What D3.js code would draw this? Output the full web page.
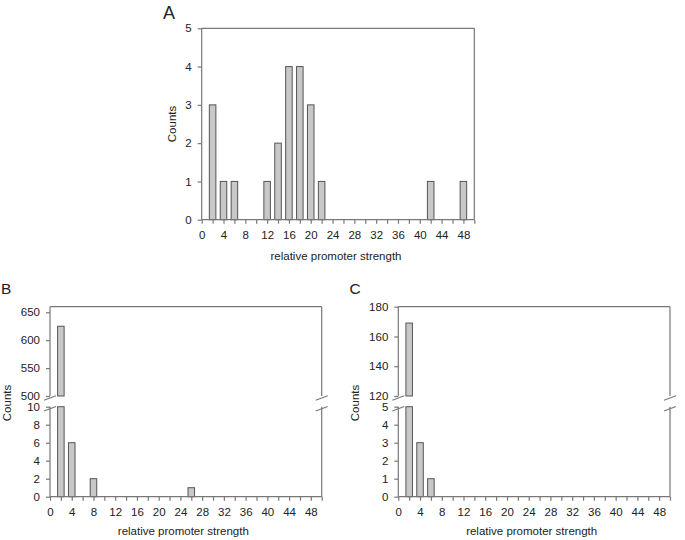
<!DOCTYPE html>
<html>
<head>
<meta charset="utf-8">
<script src="https://cdn.jsdelivr.net/npm/d3@7"></script>
<style>
  body { margin: 0; background: #fff; }
  svg text { font-family: "Liberation Sans", Arial, sans-serif; fill: #222; }
  .axis path, .axis line { stroke: #777; stroke-width: 1.2; }
  .axis text { font-size: 11.5px; fill: #222; }
</style>
</head>
<body>
<div id="canvas"></div>
<script>
// data
var xTickValues = [0, 4, 8, 12, 16, 20, 24, 28, 32, 36, 40, 44, 48];

var binsA = [2, 4, 6, 12, 14, 16, 18, 20, 22, 42, 48];
var countsA = [3, 1, 1, 1, 2, 4, 4, 3, 1, 1, 1];
var yTicksA = [0, 1, 2, 3, 4, 5];

var binsB = [2, 4, 8, 26];
var countsB = [625, 6, 2, 1];
var yTicksBLow = [0, 2, 4, 6, 8, 10];
var yTicksBHigh = [500, 550, 600, 650];

var binsC = [2, 4, 6];
var countsC = [169, 3, 1];
var yTicksCLow = [0, 1, 2, 3, 4, 5];
var yTicksCHigh = [120, 140, 160, 180];

var W = 685, H = 540;
var svg = d3.select('#canvas').append('svg')
    .attr('width', W).attr('height', H);

var barW = 1.2; // in x units
var axisCol = '#777';

function zip(b, c) {
  return b.map(function(x, i) { return {x: x, n: c[i]}; });
}

function xAxis(g, x, y0) {
  g.append('g').attr('class', 'axis')
    .attr('transform', 'translate(0,' + y0 + ')')
    .call(d3.axisBottom(x).tickValues(d3.range(0, 51, 2)).tickSize(4).tickPadding(7)
      .tickFormat(function(d) { return xTickValues.indexOf(d) >= 0 ? d : ''; }))
    .call(function(a) { a.select('.domain').attr('d', 'M' + x.range()[0] + ',0H' + x.range()[1]); });
}

function yAxis(g, y, x0, ticks) {
  g.append('g').attr('class', 'axis')
    .attr('transform', 'translate(' + x0 + ',0)')
    .call(d3.axisLeft(y).tickValues(ticks).tickSize(4).tickPadding(6).tickFormat(d3.format('d')))
    .call(function(a) { a.select('.domain').attr('d', 'M0,' + y.range()[0] + 'V' + y.range()[1]); });
}

function frameLine(g, x1, y1, x2, y2) {
  g.append('line').attr('x1', x1).attr('y1', y1).attr('x2', x2).attr('y2', y2)
    .attr('stroke', axisCol).attr('stroke-width', 1.2);
}

function drawBars(g, data, x, y, yBase) {
  g.selectAll(null).data(data).enter().append('rect')
    .attr('x', function(d) { return x(d.x - barW / 2); })
    .attr('width', function(d) { return x(barW) - x(0); })
    .attr('y', function(d) { return y(d.v); })
    .attr('height', function(d) { return yBase - y(d.v); })
    .attr('fill', '#c8c8c8')
    .attr('stroke', '#555')
    .attr('stroke-width', 1);
}

function labels(g, letter, lx, ly, lsize, cx, cy, xx, xy) {
  g.append('text').attr('x', lx).attr('y', ly).attr('font-size', lsize).text(letter);
  g.append('text').attr('transform', 'translate(' + cx + ',' + cy + ') rotate(-90)')
    .attr('text-anchor', 'middle').attr('dy', '0.35em').attr('font-size', 11.5).text('Counts');
  g.append('text').attr('x', xx).attr('y', xy)
    .attr('text-anchor', 'middle').attr('font-size', 11.5).text('relative promoter strength');
}

// ---- panel A
(function() {
  var l = 201.7, r = 474.3, t = 28.3, b = 219.7;
  var g = svg.append('g');
  var x = d3.scaleLinear().domain([0, 50]).range([l, r]);
  var y = d3.scaleLinear().domain([0, 5]).range([b, t]);
  frameLine(g, l, t, r, t);
  frameLine(g, r, t, r, b);
  drawBars(g, zip(binsA, countsA).map(function(d) { return {x: d.x, v: d.n}; }), x, y, b);
  xAxis(g, x, b);
  yAxis(g, y, l, yTicksA);
  labels(g, 'A', 163, 19, 18, 171.7, 124, 336, 260);
})();

// ---- broken panels B and C
function brokenPanel(l, r, bins, counts, lowDom, highDom, lowTicks, highTicks, letter, lx, ly) {
  var t = 306.7, hb = 396, lt = 406.7, b = 496.7;
  var g = svg.append('g');
  var x = d3.scaleLinear().domain([0, 50]).range([l, r]);
  var yLow = d3.scaleLinear().domain(lowDom).range([b, lt]);
  var yHigh = d3.scaleLinear().domain(highDom).range([hb, t]);
  var data = zip(bins, counts);

  frameLine(g, l, t, r, t);
  frameLine(g, r, t, r, hb);
  frameLine(g, r, lt, r, b);

  drawBars(g, data.map(function(d) { return {x: d.x, v: Math.min(d.n, lowDom[1])}; }), x, yLow, b);
  drawBars(g, data.filter(function(d) { return d.n > highDom[0]; })
    .map(function(d) { return {x: d.x, v: d.n}; }), x, yHigh, hb);

  xAxis(g, x, b);
  yAxis(g, yLow, l, lowTicks);
  yAxis(g, yHigh, l, highTicks);

  // break marks on both vertical edges
  [l, r].forEach(function(ax) {
    [hb + 2, lt + 2].forEach(function(yc) {
      g.append('line').attr('x1', ax - 6).attr('y1', yc + 2.2)
        .attr('x2', ax + 6).attr('y2', yc - 2.2)
        .attr('stroke', axisCol).attr('stroke-width', 1.1);
    });
  });

  labels(g, letter, lx, ly, 15.5, l - 43, 403, (l + r) / 2 - 2.5, 535);
}

brokenPanel(50, 321.7, binsB, countsB, [0, 10], [500, 660], yTicksBLow, yTicksBHigh, 'B', 1, 293.5);
brokenPanel(398.3, 670, binsC, countsC, [0, 5], [120, 180], yTicksCLow, yTicksCHigh, 'C', 349.5, 294);
</script>
</body>
</html>
